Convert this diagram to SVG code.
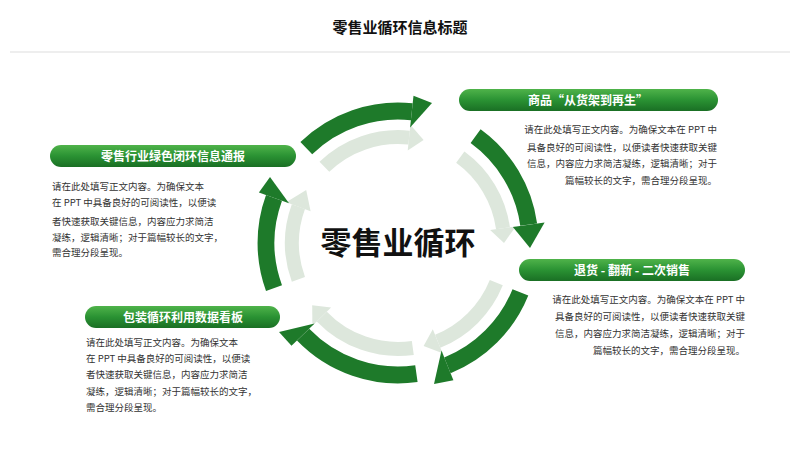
<svg xmlns="http://www.w3.org/2000/svg" width="800" height="450" viewBox="0 0 800 450">
<defs>
<linearGradient id="pg" x1="0" y1="0" x2="0" y2="1">
<stop offset="0" stop-color="#4fb34a"/><stop offset="0.5" stop-color="#2a9233"/><stop offset="1" stop-color="#1a6f24"/>
</linearGradient>
<style>
.t{font-family:"Noto Sans CJK SC","Liberation Sans",sans-serif}
.pill{fill:url(#pg)}
.pt{font-size:12px;font-weight:bold;fill:#fff;text-anchor:middle}
.b{font-size:9.5px;fill:#333}
.r{text-anchor:end}
.da{fill:none;stroke:#1e7a2a;stroke-width:17}
.dh{fill:#1e7a2a}
.la{fill:none;stroke:#dde7dc;stroke-width:14}
.lh{fill:#dde7dc}
</style>
</defs>
<rect width="800" height="450" fill="#fff"/>
<text class="t" x="400" y="33" font-size="15" font-weight="bold" text-anchor="middle" fill="#111">零售业循环信息标题</text>
<line x1="10" y1="52" x2="790" y2="52" stroke="#ddd" stroke-width="1"/>
<g id="connectors">
<path class="la" d="M324.4 166.8 A106 106 0 0 1 409.1 137.6"/><polygon class="lh" points="410.4,124.7 423.6,140.1 407.7,150.5"/>
<path class="la" d="M460.3 157.2 A106 106 0 0 1 503 228.2"/><polygon class="lh" points="515.8,226.4 504,243 490.1,230.1"/>
<path class="la" d="M496.3 282.7 A106 106 0 0 1 437.7 341.3"/><polygon class="lh" points="442.6,353.3 423.6,345.9 432.8,329.2"/>
<path class="la" d="M412.8 348 A106 106 0 0 1 321.8 316.6"/><polygon class="lh" points="312.4,325.7 312.2,305.3 331.1,307.6"/>
<path class="la" d="M298.4 279.3 A106 106 0 0 1 298.4 206.7"/><polygon class="lh" points="286.2,202.3 306.2,190 310.6,211.2"/>
<path class="da" d="M306.3 148.1 A132 132 0 0 1 411.8 111.7"/><polygon class="dh" points="413.5,95.8 432,103 410.1,127.6"/>
<path class="da" d="M475.6 136.2 A132 132 0 0 1 528.7 224.6"/><polygon class="dh" points="544.6,222.4 530,248 512.9,226.9"/>
<path class="da" d="M520.4 292.4 A132 132 0 0 1 447.4 365.4"/><polygon class="dh" points="453.4,380.2 434,384 441.5,350.6"/>
<path class="da" d="M416.4 373.7 A132 132 0 0 1 303.1 334.7"/><polygon class="dh" points="291.5,345.8 279,332 314.6,323.6"/>
<path class="da" d="M274 288.1 A132 132 0 0 1 274 197.9"/><polygon class="dh" points="258.9,192.4 270,177 289,203.3"/>
</g>
<text class="t" x="398" y="254" font-size="31" font-weight="bold" text-anchor="middle" fill="#111">零售业循环</text>
<g id="n1">
<rect class="pill" x="459" y="89" width="259" height="22" rx="11"/>
<text class="t pt" x="588" y="104.5">商品“从货架到再生”</text>
<text class="t b r" x="717" y="133">请在此处填写正文内容。为确保文本在 PPT 中</text>
<text class="t b r" x="717" y="151">具备良好的可阅读性，以便读者快速获取关键</text>
<text class="t b r" x="717" y="167">信息，内容应力求简洁凝练，逻辑清晰；对于</text>
<text class="t b r" x="717" y="184">篇幅较长的文字，需合理分段呈现。</text>
</g>
<g id="n2">
<rect class="pill" x="519" y="259" width="226" height="22" rx="11"/>
<text class="t pt" x="632" y="274.5">退货 - 翻新 - 二次销售</text>
<text class="t b r" x="745" y="303">请在此处填写正文内容。为确保文本在 PPT 中</text>
<text class="t b r" x="745" y="320">具备良好的可阅读性，以便读者快速获取关键</text>
<text class="t b r" x="745" y="337">信息，内容应力求简洁凝练，逻辑清晰；对于</text>
<text class="t b r" x="745" y="354">篇幅较长的文字，需合理分段呈现。</text>
</g>
<g id="n3">
<rect class="pill" x="50" y="145" width="246" height="22" rx="11"/>
<text class="t pt" x="173" y="160.5">零售行业绿色闭环信息通报</text>
<text class="t b" x="52" y="190">请在此处填写正文内容。为确保文本</text>
<text class="t b" x="52" y="206">在 PPT 中具备良好的可阅读性，以便读</text>
<text class="t b" x="52" y="225">者快速获取关键信息，内容应力求简洁</text>
<text class="t b" x="52" y="241">凝练，逻辑清晰；对于篇幅较长的文字，</text>
<text class="t b" x="52" y="256">需合理分段呈现。</text>
</g>
<g id="n4">
<rect class="pill" x="85" y="306" width="195" height="22" rx="11"/>
<text class="t pt" x="183" y="321.5">包装循环利用数据看板</text>
<text class="t b" x="86" y="346">请在此处填写正文内容。为确保文本</text>
<text class="t b" x="86" y="362">在 PPT 中具备良好的可阅读性，以便读</text>
<text class="t b" x="86" y="378">者快速获取关键信息，内容应力求简洁</text>
<text class="t b" x="86" y="395">凝练，逻辑清晰；对于篇幅较长的文字，</text>
<text class="t b" x="86" y="411">需合理分段呈现。</text>
</g>
</svg>
